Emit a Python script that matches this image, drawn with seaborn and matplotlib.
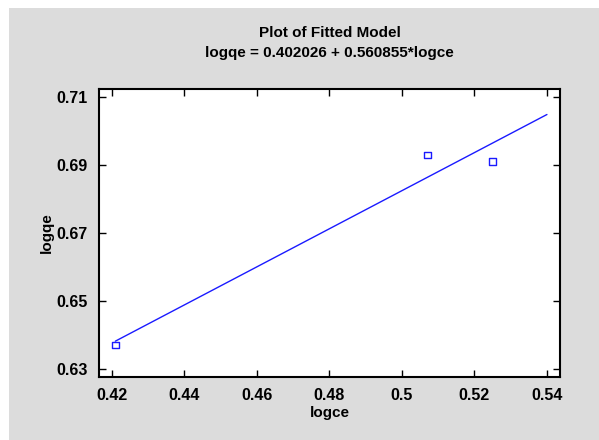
import matplotlib
matplotlib.use("Agg")
import matplotlib.pyplot as plt
import seaborn as sns
import pandas as pd
import numpy as np
from matplotlib.patches import Rectangle

# Data
logce = [0.421, 0.507, 0.525]
logqe = [0.637, 0.693, 0.691]
intercept = 0.402026
slope = 0.560855
fit_range = [0.421, 0.54]
xticks = [0.42, 0.44, 0.46, 0.48, 0.50, 0.52, 0.54]
xticklabels = ["0.42", "0.44", "0.46", "0.48", "0.5", "0.52", "0.54"]
yticks = [0.63, 0.65, 0.67, 0.69, 0.71]
yticklabels = ["0.63", "0.65", "0.67", "0.69", "0.71"]

sns.set_style("ticks")
plt.rcParams['font.family'] = ['Liberation Sans', 'DejaVu Sans']

fig = plt.figure(figsize=(5.99, 4.40), dpi=100, facecolor="white")
W, H = 599, 440
bg = Rectangle((9 / W, 0), 1 - 9 / W, 1 - 8 / H, transform=fig.transFigure,
               facecolor="#dcdcdc", edgecolor="none", zorder=-10)
fig.patches.append(bg)

ax = fig.add_axes([99 / W, 1 - 377 / H, (560 - 99) / W, (377 - 89) / H])
ax.set_zorder(5)
ax.set_facecolor("white")

fit_df = pd.DataFrame({"x": fit_range, "y": [intercept + slope * v for v in fit_range]})
sns.lineplot(data=fit_df, x="x", y="y", ax=ax, color="#1a1aff", linewidth=1.0)
pts = pd.DataFrame({"logce": logce, "logqe": logqe})
sns.scatterplot(data=pts, x="logce", y="logqe", ax=ax, marker="s", s=22,
                facecolor="none", edgecolor="#1a1aff", linewidth=1.0, zorder=3)

ax.set_xlim(0.4165, 0.5436)
ax.set_ylim(0.6276, 0.7124)
ax.set_xticks(xticks)
ax.set_xticklabels(xticklabels)
ax.set_yticks(yticks)
ax.set_yticklabels(yticklabels)
ax.tick_params(direction="in", length=5, width=1, top=True, right=True,
               labelsize=11.5, pad=8, colors="black")
for lab in ax.get_xticklabels() + ax.get_yticklabels():
    lab.set_fontweight("bold")
for s in ax.spines.values():
    s.set_visible(True)
    s.set_linewidth(1.5)
    s.set_color("black")

ax.set_xlabel("logce", fontsize=11, fontweight="bold", labelpad=2, color="black")
ax.set_ylabel("logqe", fontsize=11, fontweight="bold", labelpad=2, color="black")

fig.text(0.5 * (99 + 560) / W, 1 - 33 / H, "Plot of Fitted Model", ha="center", va="center",
         fontsize=11, fontweight="bold", color="black")
fig.text(0.5 * (99 + 560) / W, 1 - 53 / H, "logqe = 0.402026 + 0.560855*logce", ha="center",
         va="center", fontsize=11, fontweight="bold", color="black")

fig.savefig("out.png", dpi=100, facecolor="white")
